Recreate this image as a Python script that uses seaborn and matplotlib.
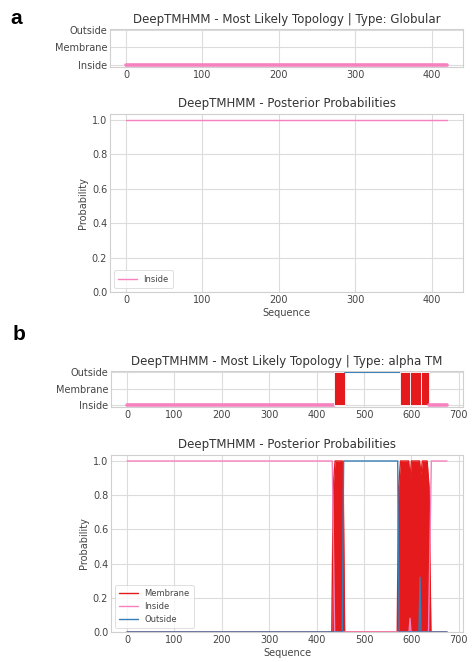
import matplotlib
matplotlib.use("Agg")
import matplotlib.pyplot as plt
import pandas as pd
import seaborn as sns

sns.set_theme(style="whitegrid")
plt.rcParams["font.family"] = ["DejaVu Sans"]

RED = "#e41a1c"
PINK = "#f781bf"
BLUE = "#377eb8"
STATE_COLORS = {"Membrane": RED, "Inside": PINK, "Outside": BLUE}

topo_levels = ["Inside", "Membrane", "Outside"]

# ---- panel a: globular protein ----
len_a = 420
topo_a_state = ["Inside"]
topo_a_start = [0]
topo_a_end = [420]
post_a_x = [0, 420]
post_a_inside = [1.0, 1.0]

# ---- panel b: alpha-helical transmembrane protein ----
len_b = 675
topo_b_state = ["Inside", "Membrane", "Outside", "Membrane", "Membrane", "Membrane", "Inside"]
topo_b_start = [0, 437, 460, 576, 598, 621, 637]
topo_b_end = [437, 460, 576, 598, 621, 637, 675]

memb_x = [0, 432, 435, 439, 454, 456, 459, 570, 573, 577, 594, 597, 600, 617, 620, 623, 633, 637, 641, 675]
memb_y = [0, 0, 0.85, 1.0, 1.0, 0.9, 0, 0, 0.85, 1.0, 1.0, 0.9, 1.0, 1.0, 0.92, 1.0, 1.0, 0.85, 0, 0]
inside_x = [0, 433, 438, 595, 597, 599, 636, 642, 675]
inside_y = [1.0, 1.0, 0, 0, 0.08, 0, 0, 1.0, 1.0]
outside_x = [0, 454, 457, 571, 574, 616, 618, 620, 675]
outside_y = [0, 0, 1.0, 1.0, 0, 0, 0.32, 0, 0]

W, H = 472, 662
fig = plt.figure(figsize=(W / 100, H / 100), dpi=100)


def add_ax(left, top, right, bottom):
    return fig.add_axes([left / W, 1 - bottom / H, (right - left) / W, (bottom - top) / H])


def style_ax(ax):
    for s in ax.spines.values():
        s.set_color("#d0d0d0")
        s.set_linewidth(0.8)
    ax.grid(True, color="#dcdcdc", linewidth=0.8)
    ax.tick_params(labelsize=7, colors="#444444", pad=2, length=0)


def topology(ax, states, starts, ends, length, kind, xticks):
    for st, s, e in zip(states, starts, ends):
        if st == "Inside":
            sns.lineplot(x=[s, e], y=[0, 0], color=PINK, lw=2.6, ax=ax, estimator=None)
        elif st == "Outside":
            sns.lineplot(x=[s, e], y=[2, 2], color=BLUE, lw=1.5, ax=ax, estimator=None)
        else:
            ax.fill_between([s, e], 0, 2, facecolor=RED, edgecolor="white", linewidth=0.6, zorder=2)
    ax.set_xlim(-0.05 * length, 1.05 * length)
    ax.set_ylim(-0.14, 2.08)
    ax.set_yticks([0, 1, 2])
    ax.set_yticklabels(topo_levels)
    ax.set_xticks(xticks)
    ax.set_title(f"DeepTMHMM - Most Likely Topology | Type: {kind}", fontsize=8.5, color="#333333", pad=4)
    style_ax(ax)


def posterior(ax, series, length, xticks):
    for name, xs, ys in series:
        if name == "Membrane":
            ax.fill_between(xs, ys, 0, color=RED, linewidth=0, zorder=2)
        sns.lineplot(x=xs, y=ys, color=STATE_COLORS[name], lw=1.0, ax=ax,
                     estimator=None, sort=False, label=name)
    ax.set_xlim(-0.05 * length, 1.05 * length)
    ax.set_ylim(0, 1.035)
    ax.set_yticks([0, 0.2, 0.4, 0.6, 0.8, 1.0])
    ax.set_xticks(xticks)
    ax.set_title("DeepTMHMM - Posterior Probabilities", fontsize=8.5, color="#333333", pad=5)
    ax.set_xlabel("Sequence", fontsize=7, color="#444444", labelpad=2)
    ax.set_ylabel("Probability", fontsize=7, color="#444444", labelpad=3)
    style_ax(ax)
    leg = ax.legend(loc="lower left", fontsize=6, frameon=True, handlelength=2.2,
                    borderpad=0.5, labelspacing=0.45, handletextpad=0.8)
    leg.get_frame().set_edgecolor("#d0d0d0")
    leg.get_frame().set_linewidth(0.6)
    for t in leg.get_texts():
        t.set_color("#444444")


# panel a
ax_a1 = add_ax(110, 29, 463, 67)
topology(ax_a1, topo_a_state, topo_a_start, topo_a_end, len_a, "Globular", [0, 100, 200, 300, 400])
ax_a2 = add_ax(110, 114, 463, 292)
posterior(ax_a2, [("Inside", post_a_x, post_a_inside)], len_a, [0, 100, 200, 300, 400])

# panel b
ax_b1 = add_ax(111, 371, 463, 407)
topology(ax_b1, topo_b_state, topo_b_start, topo_b_end, len_b, "alpha TM", list(range(0, 701, 100)))
ax_b2 = add_ax(111, 455, 463, 632)
posterior(ax_b2, [("Membrane", memb_x, memb_y), ("Inside", inside_x, inside_y),
                  ("Outside", outside_x, outside_y)], len_b, list(range(0, 701, 100)))

fig.text(10 / W, 1 - 18 / H, "a", fontsize=15, fontweight="bold", family="Liberation Sans",
         va="center", color="black")
fig.text(13 / W, 1 - 335 / H, "b", fontsize=15, fontweight="bold", family="Liberation Sans",
         va="center", color="black")

fig.savefig("out.png", dpi=100)
